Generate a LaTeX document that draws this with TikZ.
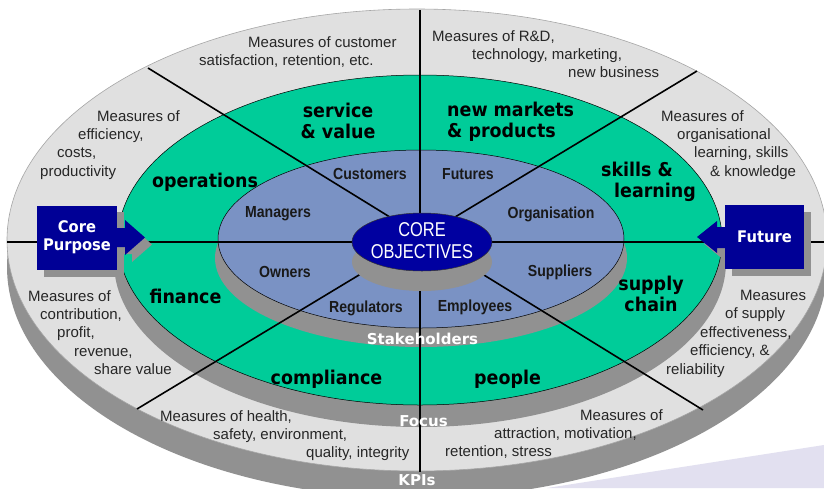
\documentclass[tikz,border=0pt]{standalone}
\usepackage{fontspec}
\setmainfont{Liberation Sans}
\newfontfamily\lblfont{DejaVu Sans}[FakeStretch=0.92]
\newfontfamily\bandfont{DejaVu Sans}
\newfontfamily\holderfont{Liberation Sans}[FakeStretch=0.88]
\newfontfamily\corefont{Liberation Sans}[FakeStretch=0.82]

\definecolor{bandgray}{RGB}{224,224,224}
\definecolor{shadegray}{RGB}{145,145,145}
\definecolor{focusgreen}{RGB}{0,204,153}
\definecolor{holderblue}{RGB}{122,146,196}
\definecolor{coreblue}{RGB}{0,0,160}
\definecolor{boxblue}{RGB}{0,0,150}
\definecolor{swoosh}{RGB}{226,224,240}

\tikzset{
	measure/.style={anchor=north west, align=left, inner sep=0pt, text=black!85, font=\fontsize{15}{18.4}\selectfont},
	focuslbl/.style={align=center, inner sep=0pt, font=\lblfont\bfseries\fontsize{19}{21}\selectfont},
	holder/.style={inner sep=0pt, text=black!90, font=\holderfont\bfseries\fontsize{16}{18}\selectfont},
	bandlbl/.style={inner sep=0pt, text=white, font=\bandfont\bfseries\fontsize{15}{18}\selectfont},
	endbox/.style={fill=boxblue, text=white, minimum width=80pt, minimum height=64pt, inner sep=0pt, align=center, font=\lblfont\bfseries\fontsize{16}{18}\selectfont},
	disc/.style={draw=black, line width=0.5pt},
	spoke/.style={line width=1.6pt},
}

\begin{document}
\begin{tikzpicture}[x=1pt,y=-1pt]
	\useasboundingbox (0,0) rectangle (824,488);
	\clip (0,0) rectangle (824,488);
	\fill[white] (0,0) rectangle (824,488);
	\fill[swoosh] (547,488) -- (824,445) -- (824,488) -- cycle;

	% discs and their shadows
	\fill[shadegray] (417,267) ellipse [x radius=410pt, y radius=231pt];
	\filldraw[fill=bandgray, draw=gray!70, line width=0.6pt] (417,240) ellipse [x radius=410pt, y radius=231pt];
	\fill[shadegray] (420,262) ellipse [x radius=306pt, y radius=165pt];
	\filldraw[fill=focusgreen, disc] (420,240) ellipse [x radius=302pt, y radius=165pt];
	\fill[shadegray] (421,258) ellipse [x radius=206pt, y radius=89pt];
	\filldraw[fill=holderblue, disc] (421,239) ellipse [x radius=203pt, y radius=89pt];

	% spokes
	\draw[spoke] (420,10) -- (420,472);
	\draw[spoke] (7,242) -- (827,242);
	\draw[spoke] (148,68) -- (703,410);
	\draw[spoke] (697,71) -- (137,409);

	% core objectives
	\fill[shadegray] (422,262) ellipse [x radius=70pt, y radius=29pt];
	\filldraw[fill=coreblue, draw=black!80, line width=0.5pt] (422,242) ellipse [x radius=70pt, y radius=29pt];
	\node[align=center, text=white, inner sep=0pt, font=\corefont\fontsize{20}{22}\selectfont] (core) at (422,241) {CORE\\OBJECTIVES};

	% purpose and future boxes
	\fill[shadegray] (44,212) rectangle (124,277);
	\fill[shadegray] (732,212) rectangle (811,276);
	\foreach \s/\c in {7/shadegray,0/boxblue}{
		\fill[\c, shift={(\s,\s)}] (117,228) -- (125,228) -- (125,220) -- (145,237.5) -- (125,255) -- (125,247) -- (117,247) -- cycle;
		\fill[\c, shift={(\s,\s)}] (725,227) -- (717,227) -- (717,221) -- (697,237) -- (717,253) -- (717,248) -- (725,248) -- cycle;
	}
	\node[endbox] (purpose) at (77,237.5) {Core\\Purpose};
	\node[endbox, minimum width=79pt] (future) at (764.5,237) {Future};

	% stakeholders
	\node[holder] (customers) at (370,174) {Customers};
	\node[holder] (futures) at (468,174) {Futures};
	\node[holder] (managers) at (278,214) {Managers};
	\node[holder] (organisation) at (551,214) {Organisation};
	\node[holder] (owners) at (285,272) {Owners};
	\node[holder] (suppliers) at (560,272) {Suppliers};
	\node[holder] (regulators) at (366,308) {Regulators};
	\node[holder] (employees) at (475,307) {Employees};

	% focus areas
	\node[focuslbl] (service) at (338,121) {service\\\& value};
	\node[focuslbl, align=left, anchor=west] (markets) at (447,121.5) {new markets\\\& products};
	\node[focuslbl] (operations) at (205,182) {operations};
	\node[focuslbl, align=left, anchor=west] (skills) at (601,182) {skills \&\\\hspace*{13pt}learning};
	\node[focuslbl] (finance) at (185.5,296) {finance};
	\node[focuslbl] (supply) at (651,293.5) {supply\\chain};
	\node[focuslbl] (compliance) at (326.5,379) {compliance};
	\node[focuslbl] (people) at (507.5,379) {people};

	% ring names
	\node[bandlbl] (stakeholders) at (422.5,339) {Stakeholders};
	\node[bandlbl] (focus) at (423.5,421) {Focus};
	\node[bandlbl] (kpis) at (417,480.5) {KPIs};

	% KPIs
	\node[measure] (custkpi) at (199,36) {\hspace*{49pt}Measures of customer\\satisfaction, retention, etc.};
	\node[measure] (rdkpi) at (432,30) {Measures of R\&D,\\\hspace*{40pt}technology, marketing,\\\hspace*{136pt}new business};
	\node[measure] (effkpi) at (40,110) {\hspace*{57pt}Measures of\\\hspace*{38pt}efficiency,\\\hspace*{17pt}costs,\\productivity};
	\node[measure] (learnkpi) at (661,110) {Measures of\\\hspace*{16pt}organisational\\\hspace*{33pt}learning, skills\\\hspace*{49pt}\& knowledge};
	\node[measure] (finkpi) at (28,290) {Measures of\\\hspace*{12pt}contribution,\\\hspace*{29pt}profit,\\\hspace*{46pt}revenue,\\\hspace*{66pt}share value};
	\node[measure] (safekpi) at (160,410) {Measures of health,\\\hspace*{53pt}safety, environment,\\\hspace*{146pt}quality, integrity};
	\node[measure] (peoplekpi) at (445,409) {\hspace*{135pt}Measures of\\\hspace*{49pt}attraction, motivation,\\retention, stress};
	\node[measure] (supplykpi) at (666,290) {\hspace*{74pt}Measures\\\hspace*{59pt}of supply\\\hspace*{34pt}effectiveness,\\\hspace*{24pt}efficiency, \&\\reliability};
\end{tikzpicture}
\end{document}
